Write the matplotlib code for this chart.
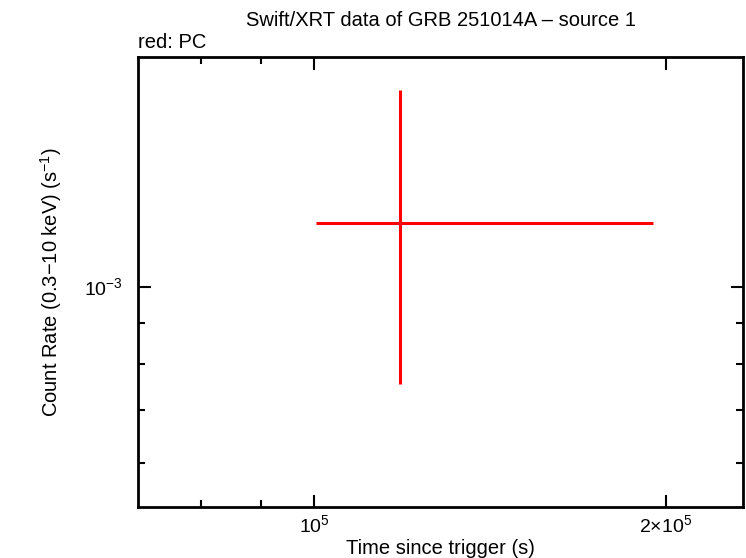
import matplotlib
matplotlib.use("Agg")
import matplotlib.pyplot as plt
from matplotlib.ticker import FixedLocator, NullFormatter

# PC mode point
t = [1.183e5]
t_lo = [1.004e5]
t_hi = [1.95e5]
rate = [1.204e-3]
rate_lo = [7.53e-4]
rate_hi = [1.77e-3]

xticks = [1e5, 2e5]
xticklabels = [r'$\mathregular{10^{5}}$', r'$\mathregular{2{\times}10^{5}}$']
yticks = [1e-3]
yticklabels = [r'$\mathregular{10^{-3}}$']

plt.rcParams['font.family'] = ['Liberation Sans', 'DejaVu Sans']
plt.rcParams['mathtext.fontset'] = 'custom'
plt.rcParams['mathtext.rm'] = 'Liberation Sans'

fig = plt.figure(figsize=(7.46, 5.58), dpi=100)
ax = fig.add_axes([138/746, 1 - 507/558, (743-138)/746, (507-57)/558])

xerr = [[t[0] - t_lo[0]], [t_hi[0] - t[0]]]
yerr = [[rate[0] - rate_lo[0]], [rate_hi[0] - rate[0]]]
ax.errorbar(t, rate, xerr=xerr, yerr=yerr, fmt='none', ecolor='red', elinewidth=2.2, capsize=0)

ax.set_xscale('log')
ax.set_yscale('log')
ax.set_xlim(7.06e4, 2.33e5)
ax.set_ylim(5.28e-4, 1.945e-3)

ax.xaxis.set_major_locator(FixedLocator(xticks))
ax.set_xticklabels(xticklabels)
ax.xaxis.set_minor_locator(FixedLocator([8e4, 9e4]))
ax.xaxis.set_minor_formatter(NullFormatter())
ax.yaxis.set_major_locator(FixedLocator(yticks))
ax.set_yticklabels(yticklabels)
ax.yaxis.set_minor_locator(FixedLocator([6e-4, 7e-4, 8e-4, 9e-4]))
ax.yaxis.set_minor_formatter(NullFormatter())

ax.tick_params(which='both', direction='in', top=True, right=True, width=1.5, labelsize=14, colors='black')
ax.tick_params(which='major', length=9)
ax.tick_params(axis='x', which='major', pad=5)
ax.tick_params(axis='y', which='major', pad=11)
ax.tick_params(which='minor', length=5)
for s in ax.spines.values():
    s.set_linewidth(2)

ax.set_xlabel('Time since trigger (s)', fontsize=14.5, labelpad=2)
ax.set_ylabel(r'Count Rate (0.3$\mathregular{-}$10 keV) (s$\mathregular{^{-1}}$)', fontsize=14.5, labelpad=14)
ax.set_title('Swift/XRT data of GRB 251014A \u2013 source 1', fontsize=14.5, pad=22)
ax.text(0.0, 1.012, 'red: PC', transform=ax.transAxes, fontsize=14.5, ha='left', va='bottom')

fig.savefig('out.png', dpi=100)
